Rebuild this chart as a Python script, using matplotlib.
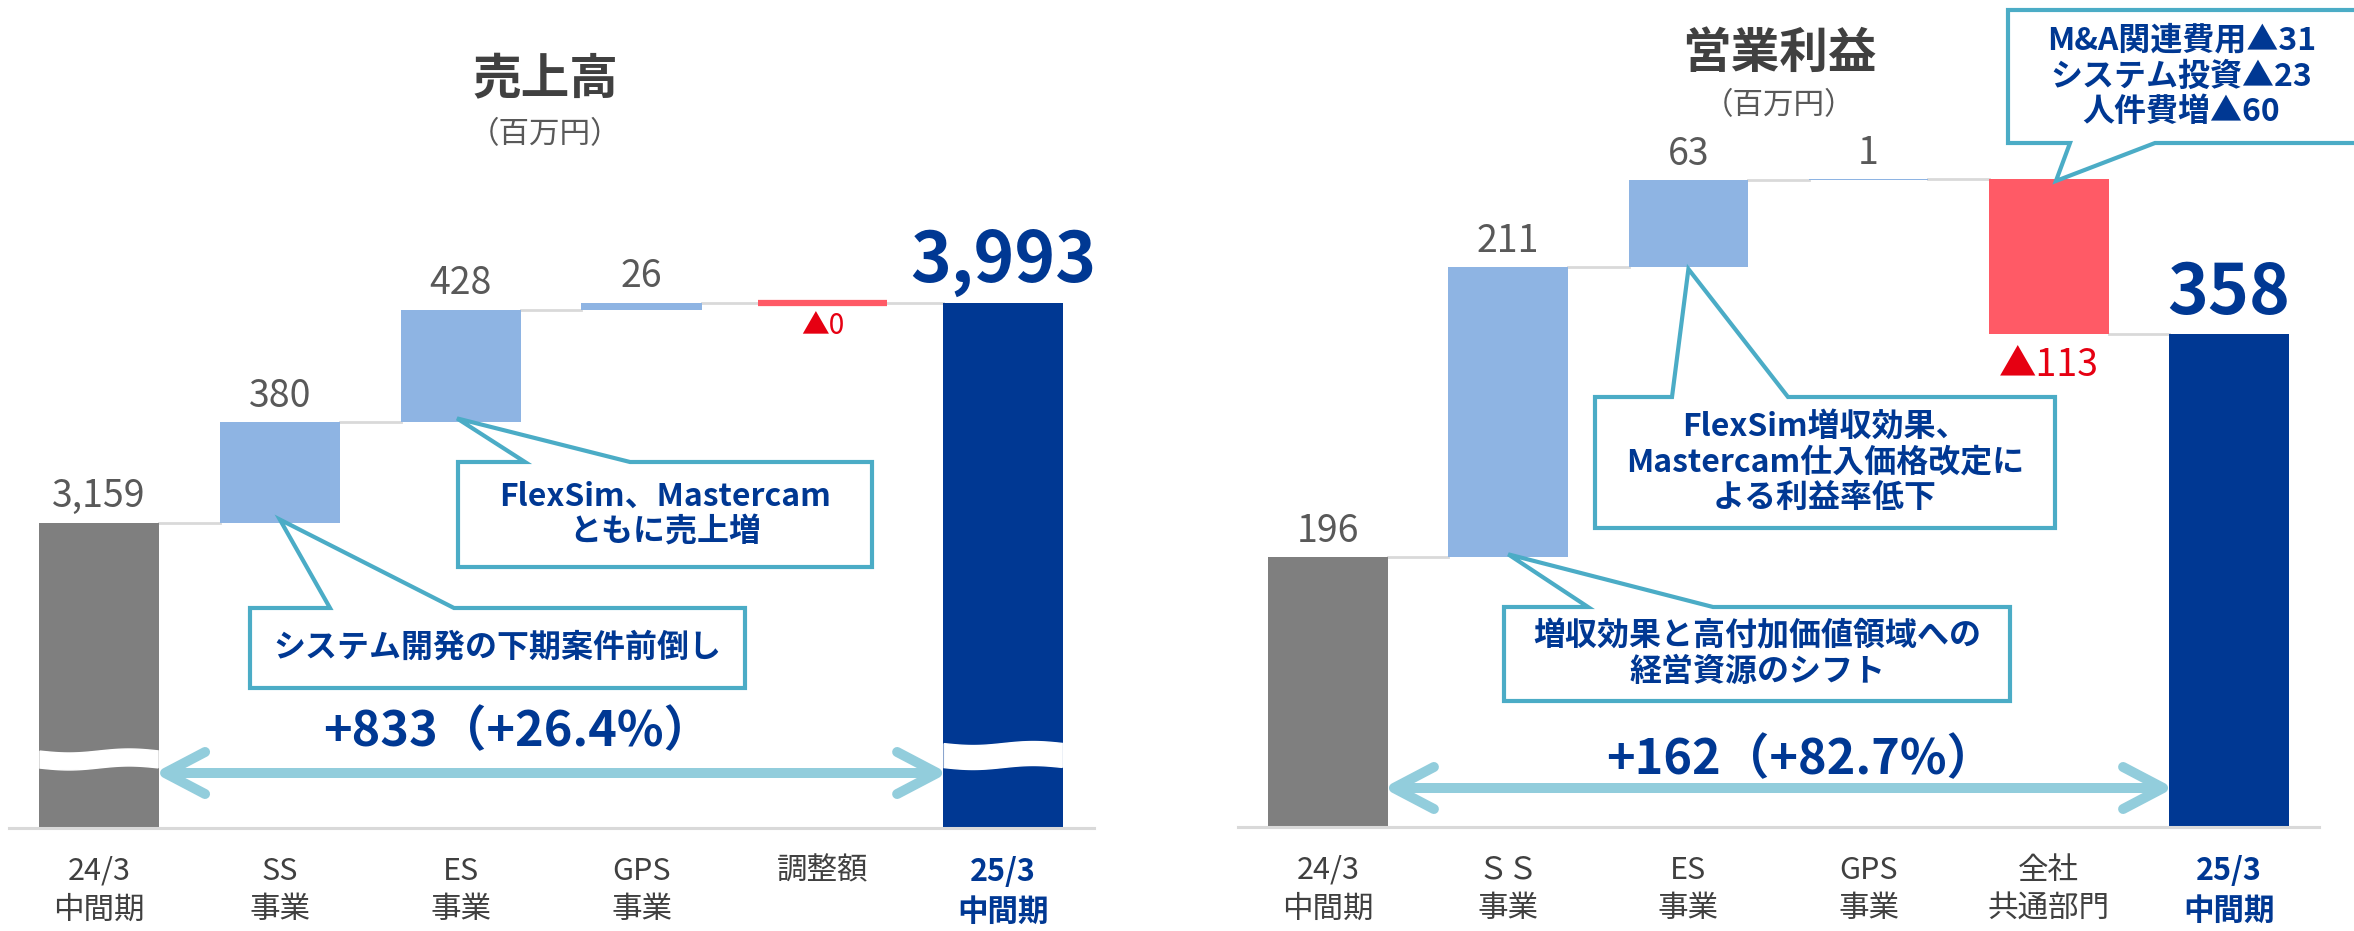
import numpy as np
import matplotlib
matplotlib.use("Agg")
import matplotlib.pyplot as plt
from matplotlib.patches import Polygon
from matplotlib.lines import Line2D

plt.rcParams['font.family'] = ['Noto Sans CJK JP', 'DejaVu Sans']

W, H = 2354, 931

NAVY = '#003893'
GRAY_BAR = '#7F7F7F'
BLUE = '#8EB4E3'
RED_BAR = '#FF5A66'
RED_TXT = '#E60012'
TEAL = '#4BACC6'
ARROW = '#92CDDC'
CONN = '#D9D9D9'
TXT = '#404040'
VAL = '#595959'

# 売上高 (百万円)
sales_cats = ['24/3\n中間期', 'SS\n事業', 'ES\n事業', 'GPS\n事業', '調整額', '25/3\n中間期']
sales_start = 3159
sales_steps = [380, 428, 26, 0]
sales_dirs = ['up', 'up', 'up', 'down']
sales_end = 3993
sales_diff = '+833（+26.4%）'

# 営業利益 (百万円)
profit_cats = ['24/3\n中間期', 'ＳＳ\n事業', 'ES\n事業', 'GPS\n事業', '全社\n共通部門', '25/3\n中間期']
profit_start = 196
profit_steps = [211, 63, 1, -113]
profit_dirs = ['up', 'up', 'up', 'down']
profit_end = 358
profit_diff = '+162（+82.7%）'

BAR_W = 0.664


def fig_xy(x, y):
    # pixel position (origin top-left) -> figure fraction
    return x / W, 1 - y / H


def data_px(ax, x, y):
    d = ax.transData.transform((x, y))
    return d[0], H - d[1]


def waterfall(ax, start, steps, dirs, end, cats, ymin):
    n = len(steps) + 2
    running = start
    ax.bar(0, start - ymin, bottom=ymin, width=BAR_W, color=GRAY_BAR, zorder=2)
    ax.annotate(f'{start:,}', (0, start), xytext=(0, 11), textcoords='offset points',
                ha='center', va='baseline', fontsize=27, color=VAL)
    levels = [start]
    for i, (v, d) in enumerate(zip(steps, dirs), start=1):
        if d == 'up':
            ax.bar(i, v, bottom=running, width=BAR_W, color=BLUE, zorder=2)
            ax.annotate(f'{v:,}', (i, running + v), xytext=(0, 11), textcoords='offset points',
                        ha='center', va='baseline', fontsize=27, color=VAL)
            running += v
        else:
            mag = abs(v)
            lw = 4.5 if mag == 0 else 0
            ax.bar(i, mag, bottom=running - mag, width=BAR_W + (0.05 if mag == 0 else 0),
                   color=RED_BAR, edgecolor=RED_BAR, linewidth=lw, zorder=2)
            running -= mag
            fs = 20 if mag == 0 else 27
            ax.annotate(f'▲{mag:,}', (i, running), xytext=(0, -6 if mag == 0 else -8),
                        textcoords='offset points', ha='center', va='top', fontsize=fs, color=RED_TXT)
        levels.append(running)
    ax.bar(n - 1, end - ymin, bottom=ymin, width=BAR_W, color=NAVY, zorder=2)
    ax.annotate(f'{end:,}', (n - 1, end), xytext=(0, 15), textcoords='offset points',
                ha='center', va='baseline', fontsize=50, fontweight='bold', color=NAVY)

    # connector lines between neighbouring bars
    for i, lv in enumerate(levels):
        ax.plot([i + BAR_W / 2, i + 1 - BAR_W / 2], [lv, lv], color=CONN, lw=2, zorder=1)

    ax.axhline(ymin, color=CONN, lw=2.2, zorder=3, clip_on=False)
    ax.set_xlim(-0.5, n - 0.5)
    ax.set_xticks(range(n))
    ax.set_xticklabels(cats, fontsize=22, color=TXT, linespacing=1.32)
    ax.tick_params(axis='x', length=0, pad=20)
    ax.tick_params(axis='y', left=False, labelleft=False)
    last = ax.get_xticklabels()[-1]
    last.set_color(NAVY)
    last.set_fontweight('bold')
    for s in ax.spines.values():
        s.set_visible(False)


def double_arrow(fig, ax, n, y):
    x0 = data_px(ax, BAR_W / 2, 0)[0] + 6
    x1 = data_px(ax, n - 1 - BAR_W / 2, 0)[0] - 6
    kw = dict(color=ARROW, lw=7.2, transform=fig.transFigure, zorder=4)
    xs, ys = zip(fig_xy(x0, y), fig_xy(x1, y))
    fig.add_artist(Line2D(xs, ys, solid_capstyle='butt', **kw))
    for tip, sgn in ((x0, 1), (x1, -1)):
        pts = [fig_xy(tip + sgn * 40, y - 21), fig_xy(tip, y), fig_xy(tip + sgn * 40, y + 21)]
        xs, ys = zip(*pts)
        fig.add_artist(Line2D(xs, ys, solid_capstyle='round', solid_joinstyle='round', **kw))


def axis_break(fig, ax, i, level, h):
    xl = data_px(ax, i - BAR_W / 2, level)[0]
    xr = data_px(ax, i + BAR_W / 2, level)[0]
    yc = data_px(ax, i, level)[1]
    xs = np.linspace(xl + 1, xr - 1, 40)
    wave = 2.0 * np.sin(2 * np.pi * (xs - xl) / (xr - xl))
    top = [fig_xy(x, yc - h / 2 + w) for x, w in zip(xs, wave)]
    bot = [fig_xy(x, yc + h / 2 + w) for x, w in zip(xs[::-1], wave[::-1])]
    fig.add_artist(Polygon(top + bot, closed=True, facecolor='white', edgecolor='white',
                           lw=1, transform=fig.transFigure, zorder=3))


def callout(fig, box, edge, base, tip, text):
    x0, y0, x1, y1 = box
    bx0, bx1 = base
    if edge == 'top':
        pts = [(x0, y0), (bx0, y0), tip, (bx1, y0), (x1, y0), (x1, y1), (x0, y1)]
    else:
        pts = [(x0, y0), (x1, y0), (x1, y1), (bx1, y1), tip, (bx0, y1), (x0, y1)]
    fig.add_artist(Polygon([fig_xy(*p) for p in pts], closed=True, facecolor='white',
                           edgecolor=TEAL, lw=3, joinstyle='miter',
                           transform=fig.transFigure, zorder=5))
    cx, cy = fig_xy((x0 + x1) / 2 if x1 <= W else (x0 + x1 - 20) / 2, (y0 + y1) / 2)
    fig.text(cx, cy, text, ha='center', va='center', multialignment='center',
             fontsize=23, fontweight='bold', color=NAVY, linespacing=1.15, zorder=6)


fig = plt.figure(figsize=(W / 100, H / 100), dpi=100)

ax_s = fig.add_axes([8.6 / W, (H - 828) / H, 1085 / W, 788 / H])
ax_s.set_ylim(2000, 4990)
waterfall(ax_s, sales_start, sales_steps, sales_dirs, sales_end, sales_cats, 2000)

ax_p = fig.add_axes([1238 / W, (H - 827) / H, 1081 / W, 787 / H])
ax_p.set_ylim(0, 572)
waterfall(ax_p, profit_start, profit_steps, profit_dirs, profit_end, profit_cats, 0)

# titles
for (x, y1, y2), title in (((545, 80, 135), '売上高'), ((1779, 53, 106), '営業利益')):
    fig.text(*fig_xy(x, y1), title, ha='center', va='center', fontsize=35,
             fontweight='bold', color=TXT)
    fig.text(*fig_xy(x, y2), '（百万円）', ha='center', va='center', fontsize=22, color=VAL)

# broken value axis on the sales chart
axis_break(fig, ax_s, 0, 2260, 17)
axis_break(fig, ax_s, 5, 2275, 24)

double_arrow(fig, ax_s, 6, 773)
double_arrow(fig, ax_p, 6, 788)
fig.text(*fig_xy(518, 732), sales_diff, ha='center', va='center', fontsize=35,
         fontweight='bold', color=NAVY)
fig.text(*fig_xy(1801, 760), profit_diff, ha='center', va='center', fontsize=35,
         fontweight='bold', color=NAVY)

# callouts
lv = np.cumsum([sales_start] + sales_steps)
tip = data_px(ax_s, 2 - 0.02, lv[1])
callout(fig, (458, 462, 872, 567), 'top', (525, 630), (tip[0], tip[1] - 4),
        'FlexSim、Mastercam\nともに売上増')
tip = data_px(ax_s, 1, lv[0])
callout(fig, (250, 608, 745, 688), 'top', (330, 454), (tip[0], tip[1] - 3),
        'システム開発の下期案件前倒し')

lv = np.cumsum([profit_start] + profit_steps)
tip = data_px(ax_p, 4 + 0.04, lv[3])
callout(fig, (2008, 10, 2375, 143), 'bottom', (2070, 2155), (tip[0], tip[1] + 2),
        'M&A関連費用▲31\nシステム投資▲23\n人件費増▲60')
tip = data_px(ax_p, 2, lv[1])
callout(fig, (1595, 397, 2055, 528), 'top', (1672, 1788), (tip[0], tip[1] + 2),
        'FlexSim増収効果、\nMastercam仕入価格改定に\nよる利益率低下')
tip = data_px(ax_p, 1, lv[0])
callout(fig, (1504, 607, 2010, 701), 'top', (1588, 1713), (tip[0], tip[1] - 3),
        '増収効果と高付加価値領域への\n経営資源のシフト')

fig.savefig('out.png', dpi=100)
